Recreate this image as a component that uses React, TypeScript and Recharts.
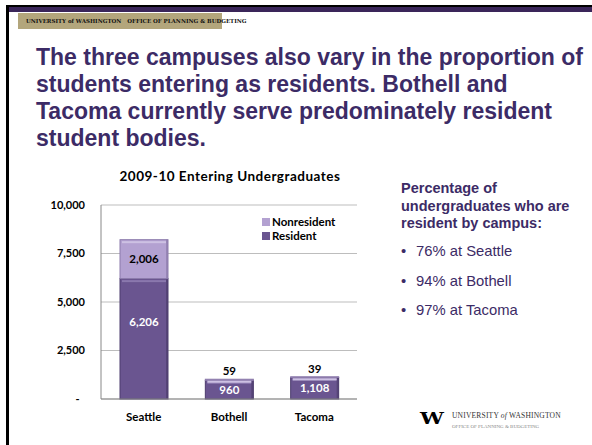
import React from "react"
import { BarChart, Bar, XAxis, YAxis, CartesianGrid, LabelList } from "recharts"

// campus data
const campuses = ["Seattle", "Bothell", "Tacoma"]
const resident = [6206, 960, 1108]
const nonresident = [2006, 59, 39]
const yTicks = [0, 2500, 5000, 7500, 10000]
const bullets = ["76% at Seattle", "94% at Bothell", "97% at Tacoma"]

const data = campuses.map((c, i) => ({ campus: c, resident: resident[i], nonresident: nonresident[i] }))

const PURPLE = "#3c2b66"
const RES = "#6a5590"
const NONRES = "#b3a1d1"

const fmt = (v: number) => (v === 0 ? "-\u00a0\u00a0" : v.toLocaleString("en-US"))

// bar with a little bevel like the office chart
const BevelBar = (props: any) => {
  const { x, y, width, height, fill, hi, edge } = props
  if (!height || height <= 0) return null
  return (
    <g>
      <rect x={x} y={y} width={width} height={height} fill={fill} stroke={edge} strokeWidth={1} />
      <rect x={x + 2} y={y + 1.5} width={width - 4} height={2} fill={hi} />
      <rect x={x + width - 2} y={y} width={2} height={height} fill={edge} opacity={0.7} />
    </g>
  )
}

const resLabel = (props: any) => {
  const { x, y, width, height, value } = props
  const cy = y + Math.min(height / 2, 43)
  return (
    <text x={x + width / 2} y={cy} dy="0.35em" textAnchor="middle" fill="#fff" fontSize={11.5} fontWeight="bold" fontFamily="Lato">
      {fmt(value)}
    </text>
  )
}

const nonLabel = (props: any) => {
  const { x, y, width, height, value } = props
  const small = height < 15
  return (
    <text x={x + width / 2} y={small ? y - 8 : y + height / 2} dy="0.35em" textAnchor="middle" fill="#000" fontSize={11.5} fontWeight="bold" fontFamily="Lato">
      {fmt(value)}
    </text>
  )
}

const legendItems = [
  ["Nonresident", NONRES],
  ["Resident", RES],
]

export default function App() {
  return (
    <div style={{ position: "absolute", left: 0, top: 0, width: 592, height: 445, background: "#fff", overflow: "hidden" }}>
      {/* slide frame */}
      <div style={{ position: "absolute", left: 6, top: 5, right: 0, height: 2, background: "#000" }} />
      <div style={{ position: "absolute", left: 6, top: 7, right: 0, height: 5, background: "#3a2559" }} />
      <div style={{ position: "absolute", left: 6, top: 5, width: 2.5, bottom: 0, background: "#000" }} />

      {/* header banner */}
      <div style={{ position: "absolute", left: 18, top: 13, width: 204, height: 16, background: "#b3a67c", display: "flex", alignItems: "center", fontFamily: "DejaVu Serif", fontSize: 5.5, fontWeight: "bold", color: "#111", whiteSpace: "nowrap" }}>
        <span style={{ width: 12, height: 9, background: "#4a2a7a", marginLeft: 4, marginRight: 4, display: "inline-block" }} />
        <span>UNIVERSITY of WASHINGTON</span>
        <span style={{ width: 2, height: 9, background: "#111", margin: "0 3px", display: "inline-block" }} />
        <span>OFFICE OF PLANNING &amp; BUDGETING</span>
      </div>

      {/* slide title */}
      <div style={{ position: "absolute", left: 36, top: 44, width: 556, fontFamily: "Liberation Sans", fontWeight: "bold", fontSize: 23, lineHeight: "27px", color: PURPLE }}>
        The three campuses also vary in the proportion of students entering as residents. Bothell and Tacoma currently serve predominately resident student bodies.
      </div>

      {/* chart title */}
      <div style={{ position: "absolute", left: 100, top: 168, width: 260, textAlign: "center", fontFamily: "Lato", fontWeight: "bold", fontSize: 13.5, letterSpacing: 0.5, color: "#000" }}>
        2009-10 Entering Undergraduates
      </div>

      <div style={{ position: "absolute", left: 0, top: 160 }}>
        <BarChart width={370} height={285} data={data} margin={{ top: 45, right: 13, bottom: 0, left: 41 }} barSize={48}>
          <CartesianGrid vertical={false} stroke="#bdbdbd" />
          <XAxis dataKey="campus" axisLine={{ stroke: "#888" }} tickLine={false} tickSize={0} tickMargin={14} height={46}
            tick={{ fill: "#000", fontSize: 11.5, fontWeight: "bold", fontFamily: "Lato" }} />
          <YAxis domain={[0, 10000]} ticks={yTicks} width={60} axisLine={{ stroke: "#888" }} tickLine={false} tickSize={0} tickMargin={16}
            tickFormatter={fmt} tick={{ fill: "#000", fontSize: 11, fontWeight: "bold", fontFamily: "Lato" }} />
          <Bar dataKey="resident" name="Resident" stackId="a" fill={RES} isAnimationActive={false}
            shape={(p: any) => <BevelBar {...p} hi="#8a78ad" edge="#4d3d6e" />}>
            <LabelList dataKey="resident" content={resLabel} />
          </Bar>
          <Bar dataKey="nonresident" name="Nonresident" stackId="a" fill={NONRES} isAnimationActive={false}
            shape={(p: any) => <BevelBar {...p} hi="#cdc1e3" edge="#8c7bab" />}>
            <LabelList dataKey="nonresident" content={nonLabel} />
          </Bar>
        </BarChart>
      </div>

      {/* legend */}
      <div style={{ position: "absolute", left: 262, top: 215, fontFamily: "Lato", fontWeight: "bold", fontSize: 11.5, color: "#000", lineHeight: "14px" }}>
        {legendItems.map(([n, c]) => (
          <div key={n} style={{ display: "flex", alignItems: "center" }}>
            <span style={{ width: 8, height: 8, background: c, marginRight: 2, display: "inline-block" }} />
            {n}
          </div>
        ))}
      </div>

      {/* side notes */}
      <div style={{ position: "absolute", left: 401, top: 180, width: 185, fontFamily: "Liberation Sans", fontWeight: "bold", fontSize: 14.5, lineHeight: "17.5px", color: PURPLE }}>
        Percentage of undergraduates who are resident by campus:
      </div>
      {bullets.map((b, i) => (
        <div key={b} style={{ position: "absolute", left: 401, top: 243 + i * 29.5, fontFamily: "Liberation Sans", fontSize: 14.8, color: PURPLE, whiteSpace: "nowrap" }}>
          <span style={{ display: "inline-block", width: 15 }}>•</span>
          {b}
        </div>
      ))}

      {/* logo */}
      <div style={{ position: "absolute", left: 420, top: 410, fontFamily: "DejaVu Serif", fontWeight: "bold", fontSize: 17, color: "#000", transform: "scaleX(1.25)", transformOrigin: "left top", lineHeight: "17px" }}>
        W
      </div>
      <div style={{ position: "absolute", left: 452, top: 411, fontFamily: "Liberation Serif", fontSize: 7.5, color: "#333", whiteSpace: "nowrap", letterSpacing: 0.2 }}>
        UNIVERSITY <i>of</i> WASHINGTON
      </div>
      <div style={{ position: "absolute", left: 452, top: 424, fontFamily: "Liberation Serif", fontSize: 5, color: "#888", whiteSpace: "nowrap" }}>
        OFFICE OF PLANNING &amp; BUDGETING
      </div>
    </div>
  )
}
